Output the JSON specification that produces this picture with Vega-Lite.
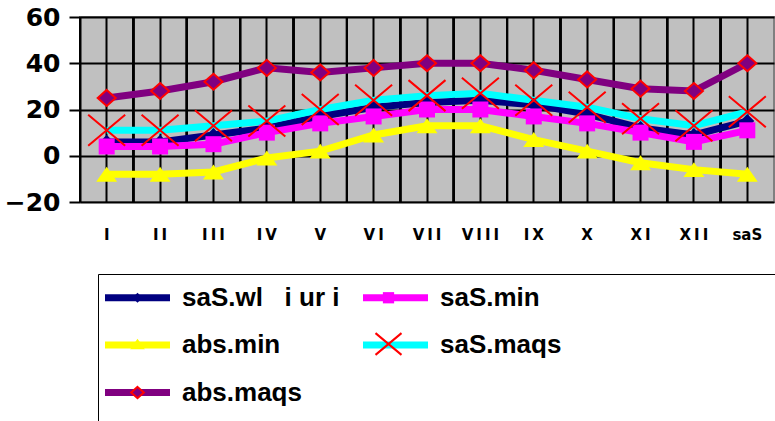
{
  "$schema": "https://vega.github.io/schema/vega-lite/v6.json",
  "width": 694,
  "height": 185,
  "autosize": {"type": "none"},
  "padding": {"left": 80, "top": 17, "right": 1, "bottom": 219},
  "background": "white",
  "config": {"view": {"fill": "#C0C0C0", "stroke": "#808080", "strokeWidth": 2}},
  "data": {"values": [
    {"month": "I", "series": "saS.wliuri", "value": 6},
    {"month": "II", "series": "saS.wliuri", "value": 6},
    {"month": "III", "series": "saS.wliuri", "value": 9},
    {"month": "IV", "series": "saS.wliuri", "value": 12},
    {"month": "V", "series": "saS.wliuri", "value": 17},
    {"month": "VI", "series": "saS.wliuri", "value": 21},
    {"month": "VII", "series": "saS.wliuri", "value": 23},
    {"month": "VIII", "series": "saS.wliuri", "value": 24},
    {"month": "IX", "series": "saS.wliuri", "value": 22},
    {"month": "X", "series": "saS.wliuri", "value": 18},
    {"month": "XI", "series": "saS.wliuri", "value": 12},
    {"month": "XII", "series": "saS.wliuri", "value": 9},
    {"month": "saS", "series": "saS.wliuri", "value": 15},
    {"month": "I", "series": "saS.min", "value": 4},
    {"month": "II", "series": "saS.min", "value": 4},
    {"month": "III", "series": "saS.min", "value": 5},
    {"month": "IV", "series": "saS.min", "value": 10},
    {"month": "V", "series": "saS.min", "value": 14},
    {"month": "VI", "series": "saS.min", "value": 17},
    {"month": "VII", "series": "saS.min", "value": 20},
    {"month": "VIII", "series": "saS.min", "value": 20},
    {"month": "IX", "series": "saS.min", "value": 17},
    {"month": "X", "series": "saS.min", "value": 14},
    {"month": "XI", "series": "saS.min", "value": 10},
    {"month": "XII", "series": "saS.min", "value": 6},
    {"month": "saS", "series": "saS.min", "value": 11},
    {"month": "I", "series": "abs.min", "value": -8},
    {"month": "II", "series": "abs.min", "value": -8},
    {"month": "III", "series": "abs.min", "value": -7},
    {"month": "IV", "series": "abs.min", "value": -1},
    {"month": "V", "series": "abs.min", "value": 2},
    {"month": "VI", "series": "abs.min", "value": 9},
    {"month": "VII", "series": "abs.min", "value": 13},
    {"month": "VIII", "series": "abs.min", "value": 13},
    {"month": "IX", "series": "abs.min", "value": 7},
    {"month": "X", "series": "abs.min", "value": 2},
    {"month": "XI", "series": "abs.min", "value": -3},
    {"month": "XII", "series": "abs.min", "value": -6},
    {"month": "saS", "series": "abs.min", "value": -8},
    {"month": "I", "series": "saS.maqs", "value": 11},
    {"month": "II", "series": "saS.maqs", "value": 11},
    {"month": "III", "series": "saS.maqs", "value": 13},
    {"month": "IV", "series": "saS.maqs", "value": 15},
    {"month": "V", "series": "saS.maqs", "value": 20},
    {"month": "VI", "series": "saS.maqs", "value": 24},
    {"month": "VII", "series": "saS.maqs", "value": 26},
    {"month": "VIII", "series": "saS.maqs", "value": 27},
    {"month": "IX", "series": "saS.maqs", "value": 24},
    {"month": "X", "series": "saS.maqs", "value": 21},
    {"month": "XI", "series": "saS.maqs", "value": 16},
    {"month": "XII", "series": "saS.maqs", "value": 13},
    {"month": "saS", "series": "saS.maqs", "value": 19},
    {"month": "I", "series": "abs.maqs", "value": 25},
    {"month": "II", "series": "abs.maqs", "value": 28},
    {"month": "III", "series": "abs.maqs", "value": 32},
    {"month": "IV", "series": "abs.maqs", "value": 38},
    {"month": "V", "series": "abs.maqs", "value": 36},
    {"month": "VI", "series": "abs.maqs", "value": 38},
    {"month": "VII", "series": "abs.maqs", "value": 40},
    {"month": "VIII", "series": "abs.maqs", "value": 40},
    {"month": "IX", "series": "abs.maqs", "value": 37},
    {"month": "X", "series": "abs.maqs", "value": 33},
    {"month": "XI", "series": "abs.maqs", "value": 29},
    {"month": "XII", "series": "abs.maqs", "value": 28},
    {"month": "saS", "series": "abs.maqs", "value": 40}
  ]},
  "encoding": {
    "x": {
      "field": "month", "type": "nominal",
      "sort": ["I", "II", "III", "IV", "V", "VI", "VII", "VIII", "IX", "X", "XI", "XII", "saS"],
      "scale": {"paddingInner": 0, "paddingOuter": 0},
      "axis": {"title": null, "ticks": false, "domain": false, "grid": true, "gridColor": "black", "gridWidth": 2, "bandPosition": 0.5, "labelFont": "DejaVu Sans", "labelFontWeight": "bold", "labelFontSize": 15, "labelColor": "black", "labelPadding": 25, "labelAngle": 0,
        "labelExpr": "datum.label == 'saS' ? datum.label : join(split(datum.label, ''), '\u2009')"}
    }
  },
  "layer": [
    {
      "mark": {"type": "rule", "color": "black", "strokeWidth": 2},
      "encoding": {
        "x": {
          "field": "month", "type": "nominal", "bandPosition": 0,
          "sort": ["I", "II", "III", "IV", "V", "VI", "VII", "VIII", "IX", "X", "XI", "XII", "saS"],
          "scale": {"paddingInner": 0, "paddingOuter": 0},
          "axis": {"title": null, "ticks": false, "domain": false, "grid": true, "gridColor": "black", "gridWidth": 2, "bandPosition": 0.5, "labelFont": "DejaVu Sans", "labelFontWeight": "bold", "labelFontSize": 15, "labelColor": "black", "labelPadding": 25, "labelAngle": 0,
            "labelExpr": "datum.label == 'saS' ? datum.label : join(split(datum.label, ''), '\u2009')"}
        }
      }
    },
    {
      "mark": {"type": "line", "strokeWidth": 7, "strokeCap": "butt"},
      "encoding": {
        "y": {"field": "value", "type": "quantitative", "scale": {"domain": [-20, 60], "nice": false, "zero": false},
          "axis": {"title": null, "values": [-20, 0, 20, 40, 60], "grid": true, "gridColor": "black", "gridWidth": 2, "domainColor": "black", "domainWidth": 2, "tickColor": "black", "tickWidth": 2, "tickSize": 11, "labelFont": "DejaVu Sans", "labelFontWeight": "bold", "labelFontSize": 25, "labelColor": "black", "labelPadding": 9}},
        "stroke": {
          "field": "series", "type": "nominal",
          "sort": ["saS.wliuri", "saS.min", "abs.min", "saS.maqs", "abs.maqs"],
          "scale": {"range": ["#000080", "#FF00FF", "#FFFF00", "#00FFFF", "#800080"]},
          "legend": {
            "orient": "none", "legendX": 18, "legendY": 257, "columns": 2, "direction": "horizontal",
            "title": "\u00a0", "titleOrient": "right", "titlePadding": 220, "titleFontSize": 200, "titleColor": "transparent",
            "padding": 0, "strokeColor": "black",
            "symbolType": "M-1.625,0H1.625", "symbolSize": 1600, "symbolStrokeWidth": 7, "symbolOffset": 16,
            "labelOffset": 21, "columnPadding": 9, "rowPadding": 9.5, "gridAlign": "each",
            "labelFont": "Liberation Sans", "labelFontWeight": "bold", "labelFontSize": 26, "labelColor": "black", "labelLimit": 400,
            "labelExpr": "datum.label == 'saS.wliuri' ? 'saS.wl\u00a0\u00a0\u00a0i\u00a0ur\u00a0i' : datum.label",
            "encoding": {"symbols": {"strokeWidth": {"value": 7}, "size": {"value": 1600}}}
          }
        }
      }
    },
    {
      "mark": {"type": "point", "filled": true, "size": 4096, "opacity": 1, "strokeWidth": 2},
      "encoding": {
        "y": {"field": "value", "type": "quantitative"},
        "shape": {
          "field": "series", "type": "nominal",
          "scale": {"domain": ["saS.wliuri", "saS.min", "abs.min", "saS.maqs", "abs.maqs"],
            "range": ["M0,-0.219L0.219,0L0,0.219L-0.219,0Z", "M-0.25,-0.25H0.25V0.25H-0.25Z", "M0,-0.234L0.328,0.234L-0.328,0.234Z", "M-0.578,-0.484L0.578,0.484M-0.578,0.484L0.578,-0.484", "M0,-0.25L0.281,0L0,0.25L-0.281,0Z"]},
          "legend": {
            "orient": "none", "legendX": 18, "legendY": 257, "columns": 2, "direction": "horizontal", "title": null,
            "padding": 0,
            "symbolSize": 2025, "symbolStrokeWidth": 2, "symbolOffset": 16,
            "labelOffset": 21, "columnPadding": 9, "rowPadding": 9.5, "gridAlign": "each",
            "labelFont": "Liberation Sans", "labelFontWeight": "bold", "labelFontSize": 26, "labelColor": "black", "labelOpacity": 0, "labelLimit": 400,
            "labelExpr": "datum.label == 'saS.wliuri' ? 'saS.wl\u00a0\u00a0\u00a0i\u00a0ur\u00a0i' : datum.label",
            "encoding": {"symbols": {"strokeWidth": {"value": 2}, "size": {"value": 2025}, "stroke": {"condition": {"test": "datum.value == 'saS.maqs' || datum.value == 'abs.maqs'", "value": "#FF0000"}, "value": "transparent"}}}
          }
        },
        "fill": {
          "field": "series", "type": "nominal",
          "scale": {"domain": ["saS.wliuri", "saS.min", "abs.min", "saS.maqs", "abs.maqs"],
            "range": ["#000080", "#FF00FF", "#FFFF00", "#FF0000", "#800080"]},
          "legend": {
            "orient": "none", "legendX": 18, "legendY": 257, "columns": 2, "direction": "horizontal", "title": null,
            "padding": 0,
            "symbolSize": 2025, "symbolStrokeWidth": 2, "symbolOffset": 16,
            "labelOffset": 21, "columnPadding": 9, "rowPadding": 9.5, "gridAlign": "each",
            "labelFont": "Liberation Sans", "labelFontWeight": "bold", "labelFontSize": 26, "labelColor": "black", "labelOpacity": 0, "labelLimit": 400,
            "labelExpr": "datum.label == 'saS.wliuri' ? 'saS.wl\u00a0\u00a0\u00a0i\u00a0ur\u00a0i' : datum.label",
            "encoding": {"symbols": {"strokeWidth": {"value": 2}, "size": {"value": 2025}, "stroke": {"condition": {"test": "datum.value == 'saS.maqs' || datum.value == 'abs.maqs'", "value": "#FF0000"}, "value": "transparent"}}}
          }
        },
        "stroke": {"condition": {"test": "datum.series === 'saS.maqs' || datum.series === 'abs.maqs'", "value": "#FF0000"}, "value": "transparent"}
      }
    }
  ]
}
